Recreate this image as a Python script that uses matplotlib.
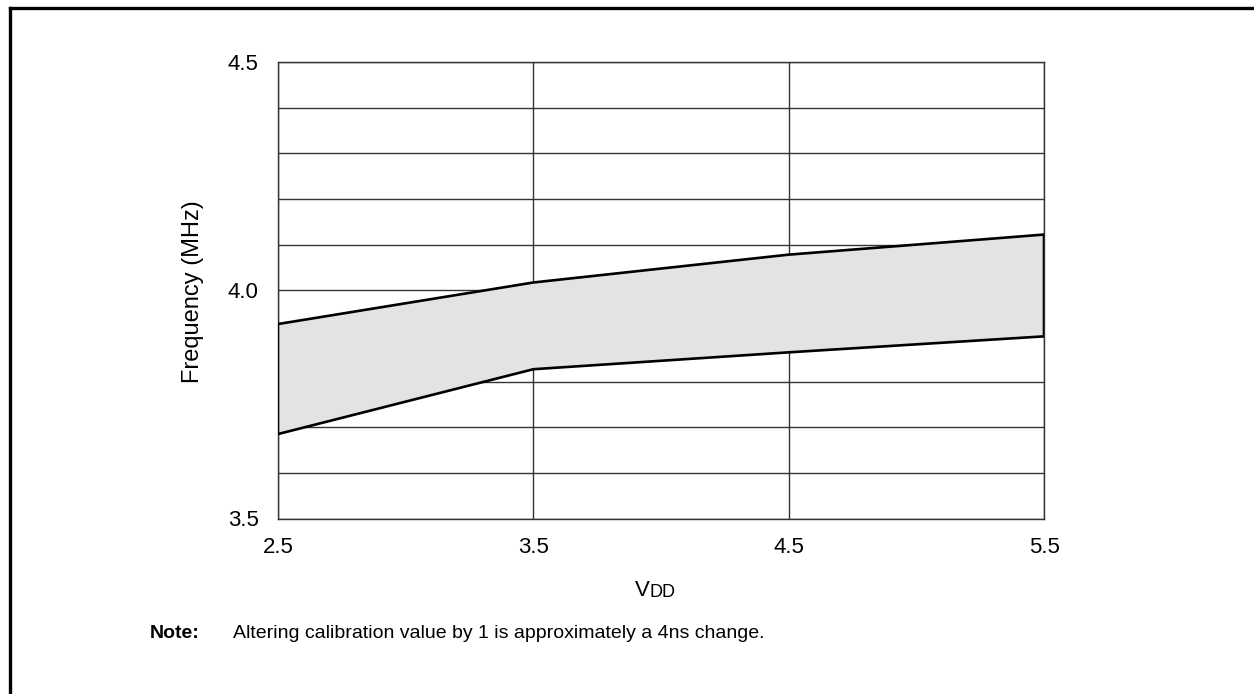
import numpy as np
import matplotlib.pyplot as plt
from matplotlib.lines import Line2D

plt.rcParams['font.family'] = ['Liberation Sans', 'DejaVu Sans']

# data
vdd = [2.5, 3.5, 4.5, 5.5]
freq_max = [3.926, 4.017, 4.078, 4.122]
freq_min = [3.685, 3.827, 3.864, 3.899]
x_ticks = [2.5, 3.5, 4.5, 5.5]
y_ticks = [3.5, 4.0, 4.5]
y_grid = [3.6, 3.7, 3.8, 3.9, 4.1, 4.2, 4.3, 4.4]

W, H = 1254, 694
fig = plt.figure(figsize=(W / 100, H / 100), dpi=100)
ax = fig.add_axes([278 / W, 1 - 518.5 / H, (1044 - 278) / W, (518.5 - 62) / H])

# shaded band, closed outline
px = list(vdd) + list(vdd[::-1])
py = list(freq_max) + list(freq_min[::-1])
ax.fill(px, py, facecolor='#e3e3e3', edgecolor='black', linewidth=1.9,
        joinstyle='miter', zorder=3)

ax.set_xlim(2.5, 5.5)
ax.set_ylim(3.5, 4.5)
ax.set_xticks(x_ticks)
ax.set_xticklabels([f'{v:.1f}' for v in x_ticks])
ax.set_yticks(y_ticks)
ax.set_yticklabels([f'{v:.1f}' for v in y_ticks])
ax.set_yticks(y_grid, minor=True)
ax.grid(True, which='both', color='#333333', linewidth=1.0)
ax.set_axisbelow(True)
ax.tick_params(which='both', length=0, labelsize=16, colors='black')
ax.tick_params(axis='x', pad=13)
ax.tick_params(axis='y', pad=14)
for s in ax.spines.values():
    s.set_color('#333333')
    s.set_linewidth(1.0)

fig.text(192.5 / W, 1 - 291.5 / H, 'Frequency (MHz)', fontsize=17,
         rotation=90, ha='center', va='center')

# VDD label: V followed by smaller DD
t1 = fig.text(635 / W, 1 - 596 / H, 'V', fontsize=16, ha='left', va='baseline')
ax.annotate('DD', xy=(1, 0), xycoords=t1, fontsize=13,
            ha='left', va='bottom')

fig.text(150 / W, 1 - 638 / H, 'Note:', fontsize=14, fontweight='bold',
         va='baseline')
fig.text(233 / W, 1 - 638 / H,
         'Altering calibration value by 1 is approximately a 4ns change.',
         fontsize=14, va='baseline')

# outer frame (left and top edges only are visible)
fx = 9.5 / W
fy = 1 - 7.5 / H
fig.add_artist(Line2D([fx, fx], [0, fy], transform=fig.transFigure,
                      color='black', linewidth=2.4, solid_capstyle='projecting'))
fig.add_artist(Line2D([fx, 1], [fy, fy], transform=fig.transFigure,
                      color='black', linewidth=2.4, solid_capstyle='projecting'))

fig.savefig('out.png', dpi=100, facecolor='white')
